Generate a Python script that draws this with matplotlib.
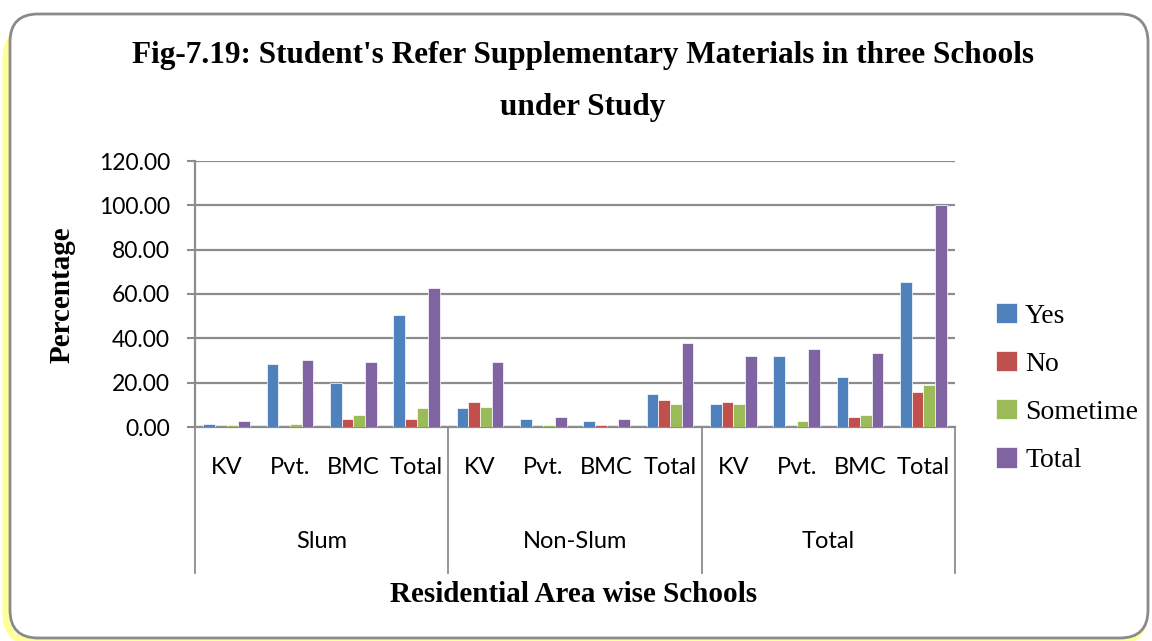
import matplotlib

matplotlib.use("Agg")
import matplotlib.pyplot as plt  # noqa: E402
import numpy as np  # noqa: E402
from matplotlib.patches import FancyBboxPatch  # noqa: E402

# Percentages per school type, grouped by residential area
groups = ["Slum", "Non-Slum", "Total"]
schools = ["KV", "Pvt.", "BMC", "Total"]
series = ["Yes", "No", "Sometime", "Total"]

yes_vals = [1.5, 28.4, 19.8, 50.4, 8.4, 3.7, 2.6, 15.0, 10.4, 32.2, 22.6, 65.6]
no_vals = [0.0, 0.0, 3.7, 3.7, 11.1, 0.0, 0.8, 12.4, 11.1, 0.0, 4.6, 16.0]
sometime_vals = [0.8, 1.5, 5.5, 8.4, 9.2, 0.8, 0.0, 10.4, 10.4, 2.6, 5.5, 18.8]
total_vals = [2.7, 30.4, 29.3, 62.7, 29.3, 4.6, 3.7, 38.0, 32.2, 35.1, 33.3, 100.0]

colors = ["#4F81BD", "#C0504D", "#9BBB59", "#8064A2"]
grid_color = "#8C8C8C"

W, H = 1152, 641
fig = plt.figure(figsize=(W / 100, H / 100), dpi=100)

# Background frame drawn in pixel units on a full-figure axes
bg = fig.add_axes([0, 0, 1, 1])
bg.set_xlim(0, W)
bg.set_ylim(H, 0)
bg.axis("off")
glow = FancyBboxPatch((6, 30), 1138, 612, boxstyle="round,pad=0,rounding_size=28",
                      facecolor="none", edgecolor="#FFFF55", linewidth=5, alpha=0.6)
bg.add_patch(glow)
frame = FancyBboxPatch((10, 14), 1138, 624, boxstyle="round,pad=0,rounding_size=28",
                       facecolor="white", edgecolor="#8A8A8A", linewidth=2)
bg.add_patch(frame)

serif = "Liberation Serif"
sans = "Lato"

fig.text(583 / W, 1 - 55 / H, "Fig-7.19: Student's Refer Supplementary Materials in three Schools",
         ha="center", va="center", fontsize=22.5, fontweight="bold", family=serif)
fig.text(583 / W, 1 - 107 / H, "under Study",
         ha="center", va="center", fontsize=22.5, fontweight="bold", family=serif)

x0, x1, y0, y1 = 195, 955, 161, 427
ax = fig.add_axes([x0 / W, 1 - y1 / H, (x1 - x0) / W, (y1 - y0) / H])
ax.set_facecolor("none")

n = len(yes_vals)
pos = np.arange(n) + 0.5
bw = 0.183
for k, (vals, c) in enumerate(zip([yes_vals, no_vals, sometime_vals, total_vals], colors)):
    ax.bar(pos + (k - 1.5) * bw, vals, width=bw, color=c, edgecolor="white",
           linewidth=0.5, label=series[k], zorder=3)

ax.set_xlim(0, n)
ax.set_ylim(0, 120)
ax.set_yticks(np.arange(0, 121, 20))
ax.set_yticklabels([f"{v:.2f}" for v in np.arange(0, 121, 20)], family=sans, fontsize=16.5)
ax.yaxis.grid(True, color=grid_color, linewidth=1.6, zorder=0)
ax.set_xticks([])
ax.tick_params(axis="y", length=6, width=1.5, color=grid_color, pad=12)
for side in ["top", "right"]:
    ax.spines[side].set_visible(False)
for side in ["left", "bottom"]:
    ax.spines[side].set_color(grid_color)
    ax.spines[side].set_linewidth(1.6)

# Two-level category axis
sep_bottom = -(573 - y1) / (y1 - y0)
trans = ax.get_xaxis_transform()
for i, lab in enumerate(schools * len(groups)):
    ax.text(pos[i], -(468 - y1) / (y1 - y0), lab, transform=trans, ha="center", va="center",
            family=sans, fontsize=17)
for g, name in enumerate(groups):
    ax.text(g * 4 + 2, -(542 - y1) / (y1 - y0), name, transform=trans, ha="center",
            va="center", family=sans, fontsize=17)
for xs in [0, 4, 8, 12]:
    ax.plot([xs, xs], [0, sep_bottom], transform=trans, color=grid_color, linewidth=1.3,
            clip_on=False)

fig.text(62 / W, 1 - 295 / H, "Percentage", rotation=90, ha="center", va="center",
         fontsize=21, fontweight="bold", family=serif)
fig.text(574 / W, 1 - 594 / H, "Residential Area wise Schools", ha="center", va="center",
         fontsize=21, fontweight="bold", family=serif)

leg = ax.legend(loc="center left", bbox_to_anchor=(996 / W, 1 - 388 / H),
                bbox_transform=fig.transFigure, frameon=False, borderpad=0,
                borderaxespad=0, handlelength=0.75, handleheight=0.75,
                handletextpad=0.3, labelspacing=0.8,
                prop={"family": serif, "size": 20})

fig.savefig("out.png", dpi=100)
